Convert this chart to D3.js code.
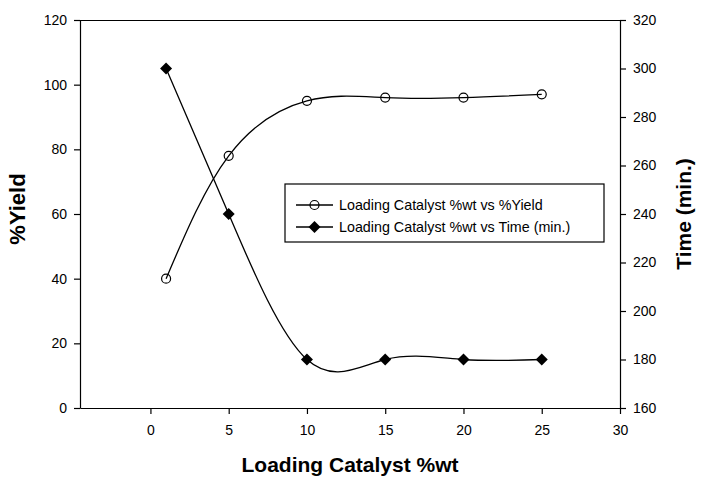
<!DOCTYPE html>
<html>
<head>
<meta charset="utf-8">
<script src="https://cdn.jsdelivr.net/npm/d3@7"></script>
<style>
  body { margin: 0; background: #fff; }
  text { font-family: Arial, "Liberation Sans", sans-serif; fill: #000; }
</style>
</head>
<body>
<div id="chart"></div>
<script>
// data
const loading = [1, 5, 10, 15, 20, 25]
const yieldPct = [40, 78, 95, 96, 96, 97]
const timeMin = [300, 240, 180, 180, 180, 180]

const xTicks = [0, 5, 10, 15, 20, 25, 30]
const yLeftTicks = [0, 20, 40, 60, 80, 100, 120]
const yRightTicks = [160, 180, 200, 220, 240, 260, 280, 300, 320]

const seriesNames = ["Loading Catalyst %wt vs %Yield", "Loading Catalyst %wt vs Time (min.)"]

const width = 709, height = 491
const margin = {top: 20, right: 89, bottom: 83, left: 80}

const svg = d3.select("#chart").append("svg")
    .attr("width", width)
    .attr("height", height)

const x = d3.scaleLinear().domain([-4.5, 30]).range([margin.left, width - margin.right])
const yL = d3.scaleLinear().domain([0, 120]).range([height - margin.bottom, margin.top])
const yR = d3.scaleLinear().domain([160, 320]).range([height - margin.bottom, margin.top])

// top border
svg.append("line")
    .attr("x1", x.range()[0]).attr("x2", x.range()[1])
    .attr("y1", margin.top + 0.5).attr("y2", margin.top + 0.5)
    .attr("stroke", "#000").attr("stroke-width", 1.2)

function styleAxis(g){
    g.selectAll("path").attr("stroke", "#000").attr("stroke-width", 1.2)
    g.selectAll("line").attr("stroke", "#000").attr("stroke-width", 1.2)
    g.selectAll("text").style("font-size", "14px").attr("fill", "#000")
        .style("font-family", "Arial, 'Liberation Sans', sans-serif")
}

svg.append("g")
    .attr("transform", `translate(0,${height - margin.bottom})`)
    .call(d3.axisBottom(x).tickValues(xTicks).tickSize(6).tickSizeOuter(0).tickPadding(11))
    .call(styleAxis)

svg.append("g")
    .attr("transform", `translate(${margin.left},0)`)
    .call(d3.axisLeft(yL).tickValues(yLeftTicks).tickSize(6).tickSizeOuter(0).tickPadding(7))
    .call(styleAxis)

svg.append("g")
    .attr("transform", `translate(${width - margin.right},0)`)
    .call(d3.axisRight(yR).tickValues(yRightTicks).tickSize(6).tickSizeOuter(0).tickPadding(7))
    .call(styleAxis)

// axis titles
svg.append("text")
    .attr("x", (x.range()[0] + x.range()[1]) / 2)
    .attr("y", 472)
    .attr("text-anchor", "middle")
    .style("font-size", "21px").style("font-weight", "bold")
    .text("Loading Catalyst %wt")

svg.append("text")
    .attr("transform", "translate(25,209) rotate(-90)")
    .attr("text-anchor", "middle")
    .style("font-size", "22px").style("font-weight", "bold")
    .text("%Yield")

svg.append("text")
    .attr("transform", "translate(691,214) rotate(-90)")
    .attr("text-anchor", "middle")
    .style("font-size", "21px").style("font-weight", "bold")
    .text("Time (min.)")

// curves
const yieldData = loading.map((d, i) => ({x: d, y: yieldPct[i]}))
const timeData = loading.map((d, i) => ({x: d, y: timeMin[i]}))

const lineL = d3.line().x(d => x(d.x)).y(d => yL(d.y)).curve(d3.curveNatural)
const lineR = d3.line().x(d => x(d.x)).y(d => yR(d.y)).curve(d3.curveNatural)

svg.append("path").datum(yieldData)
    .attr("d", lineL).attr("fill", "none").attr("stroke", "#000").attr("stroke-width", 1.3)
svg.append("path").datum(timeData)
    .attr("d", lineR).attr("fill", "none").attr("stroke", "#000").attr("stroke-width", 1.3)

// square turned 45 degrees
const diamond = d3.symbol().type(d3.symbolSquare).size(72)

svg.append("g").selectAll("path")
    .data(timeData).enter().append("path")
    .attr("transform", d => `translate(${x(d.x)},${yR(d.y)}) rotate(45)`)
    .attr("d", diamond).attr("fill", "#000")

// hollow circles, the line shows through them
svg.append("g").selectAll("circle")
    .data(yieldData).enter().append("circle")
    .attr("cx", d => x(d.x)).attr("cy", d => yL(d.y))
    .attr("r", 4.5).attr("fill", "none").attr("stroke", "#000").attr("stroke-width", 1.2)

// legend
const legend = svg.append("g").attr("transform", "translate(285,184)")
legend.append("rect")
    .attr("width", 319).attr("height", 58)
    .attr("fill", "#fff").attr("stroke", "#000").attr("stroke-width", 1.2)

seriesNames.forEach((name, i) => {
    const row = legend.append("g").attr("transform", `translate(0,${21 + i * 22})`)
    row.append("line").attr("x1", 11).attr("x2", 48).attr("y1", 0).attr("y2", 0)
        .attr("stroke", "#000").attr("stroke-width", 1.3)
    if (i === 0) {
        row.append("circle").attr("cx", 29.5).attr("cy", 0).attr("r", 4.5)
            .attr("fill", "none").attr("stroke", "#000").attr("stroke-width", 1.2)
    } else {
        row.append("path").attr("transform", "translate(29.5,0) rotate(45)").attr("d", diamond).attr("fill", "#000")
    }
    row.append("text").attr("x", 54).attr("y", 5)
        .style("font-size", "14.3px").text(name)
})
</script>
</body>
</html>
